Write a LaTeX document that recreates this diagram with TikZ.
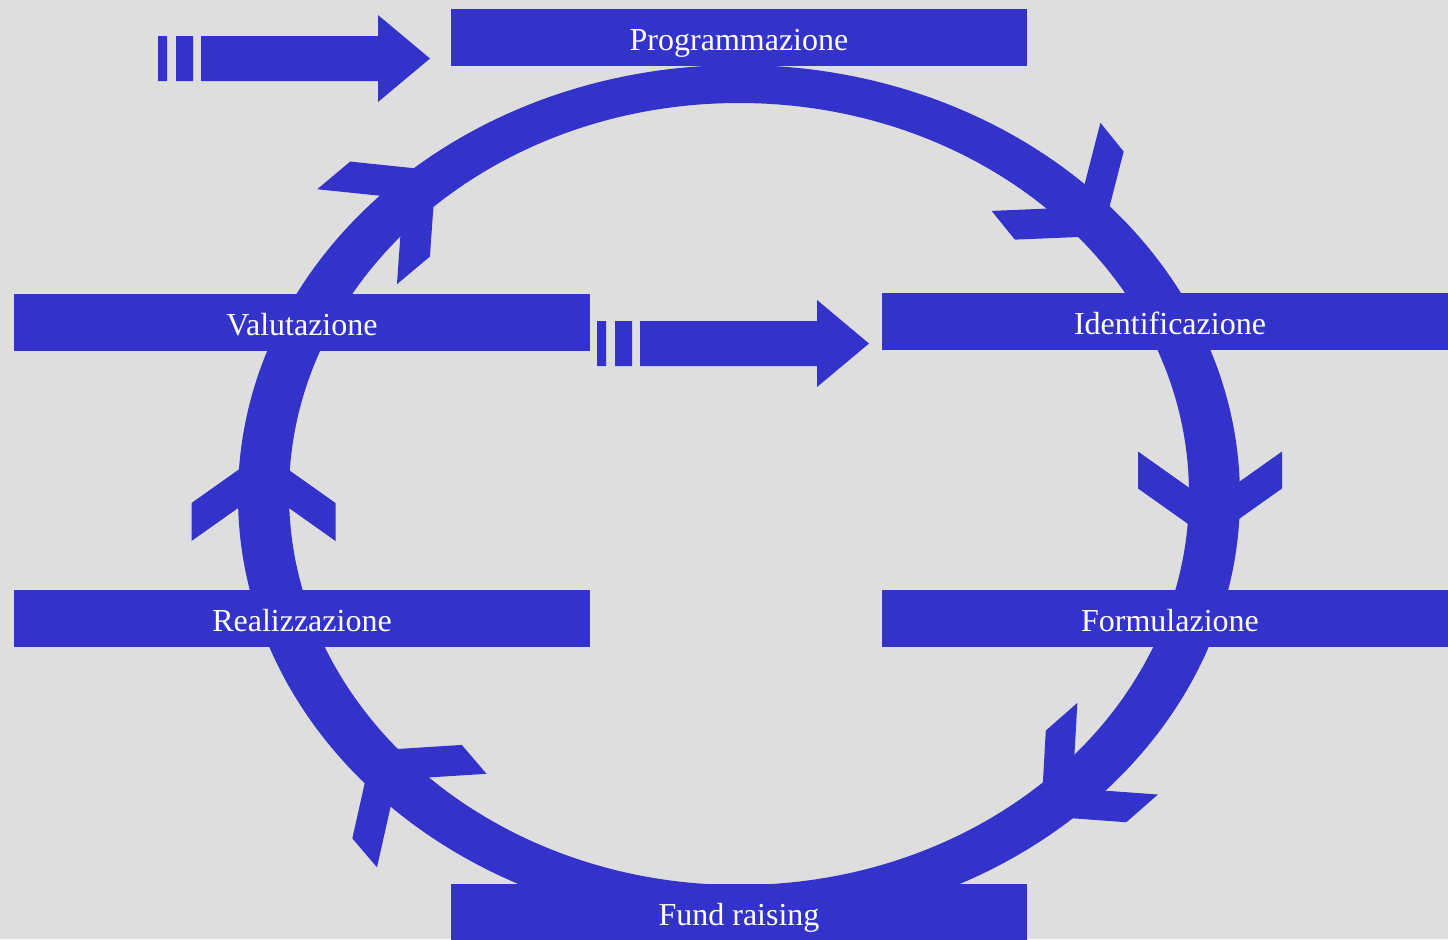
\documentclass[tikz,border=0pt]{standalone}
\usepackage{fontspec}
\setmainfont{Liberation Serif}
\definecolor{ringblue}{RGB}{51,51,204}
\definecolor{bggray}{RGB}{222,222,222}
% chevron: tip x, tip y, angle, back length b, half width w, thickness t
\newcommand\ringchev[6]{\fill[ringblue,shift={(#1,#2)},rotate=#3] (0,0)--(-#4,#5)--({-#4-#6},#5)--(-#6,0)--({-#4-#6},-#5)--(-#4,-#5)--cycle;}
\begin{document}
\begin{tikzpicture}[x=0.5pt,y=-0.5pt,
  box/.style={fill=ringblue,text=white,inner sep=0pt,minimum width=288pt,minimum height=28.5pt,
    text height=13pt,text depth=0pt,font=\fontsize{16}{19}\selectfont}]
\useasboundingbox (0,0) rectangle (1448,939);
\fill[bggray] (0,0) rectangle (1448,939);
\begin{scope}
\clip (0,0) rectangle (1448,939);
% ring
\fill[ringblue,even odd rule] (739,496.5) ellipse [x radius=250.5pt, y radius=215.75pt]
  (739,494) ellipse [x radius=225pt, y radius=195.5pt];
% chevrons on the ring
\ringchev{1210}{539.5}{-90}{51}{72}{37}
\ringchev{263.5}{452}{90}{51}{72}{38}
\ringchev{1102}{236}{-51}{52}{70}{37}
\ringchev{436}{170.5}{40}{60}{62}{43}
\ringchev{1041}{816}{-138.7}{60}{61}{42}
\ringchev{372}{750.6}{130.5}{54}{72}{38}
% boxes
\node[box] (prog)  at (739,37.5)   {Programmazione};
\node[box] (ident) at (1170,321.5) {Identificazione};
\node[box] (valut) at (302,322.5)  {Valutazione};
\node[box] (realiz) at (302,618.5) {Realizzazione};
\node[box] (formul) at (1170,618.5) {Formulazione};
\node[box] (fund)  at (739,912.5)  {Fund raising};
% striped arrows
\fill[ringblue] (158,36) rectangle (167,81) (176,36) rectangle (193,81)
  (201,36) -- (378,36) -- (378,15) -- (430,58.5) -- (378,102) -- (378,81) -- (201,81) -- cycle;
\fill[ringblue] (597,321) rectangle (606,366) (615,321) rectangle (632,366)
  (640,321) -- (817,321) -- (817,300) -- (869,343.5) -- (817,387) -- (817,366) -- (640,366) -- cycle;
\end{scope}
\end{tikzpicture}
\end{document}
